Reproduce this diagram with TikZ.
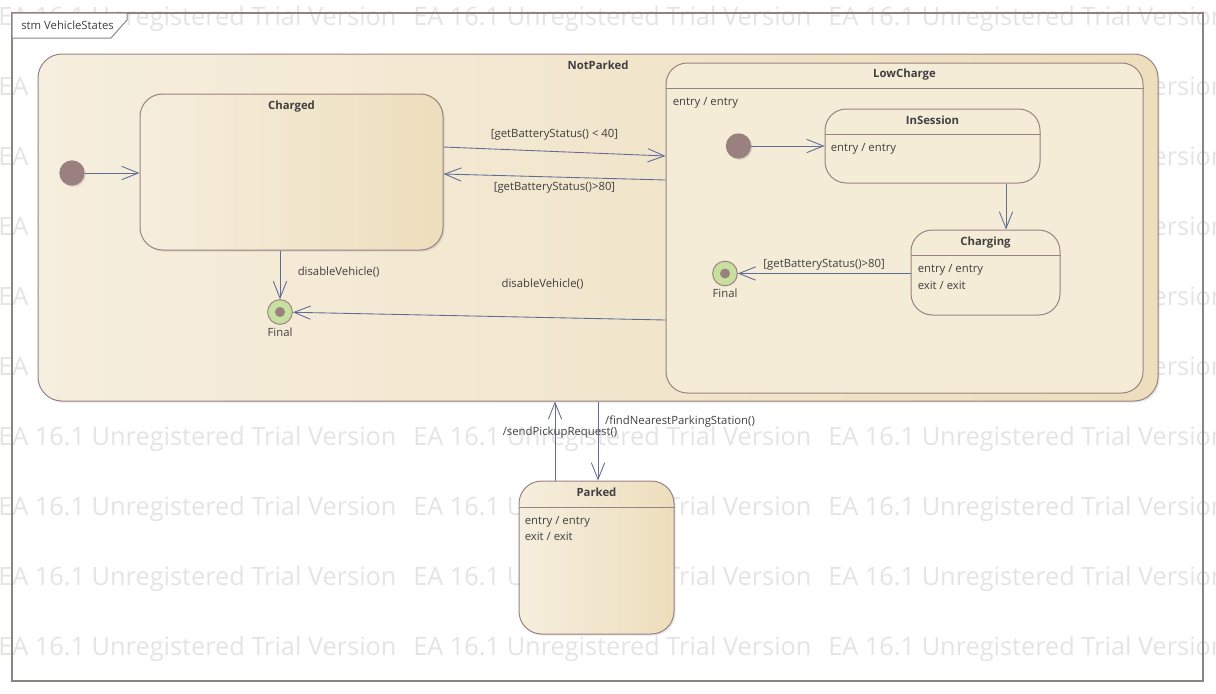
\documentclass[tikz,border=0pt]{standalone}
\usepackage{fontspec}
\setsansfont{Open Sans}
\usetikzlibrary{arrows.meta,positioning,calc,shadows}

\definecolor{stateline}{RGB}{155,130,130}
\definecolor{stateL}{RGB}{246,238,222}
\definecolor{stateR}{RGB}{237,222,188}
\definecolor{stateflat}{RGB}{245,236,216}
\definecolor{pseudo}{RGB}{155,128,128}
\definecolor{finalring}{RGB}{200,224,158}
\definecolor{transcol}{RGB}{95,108,148}
\definecolor{txt}{RGB}{64,64,64}
\definecolor{wmark}{RGB}{228,228,228}
\definecolor{framecol}{RGB}{145,130,130}

\tikzset{
  statebox/.style={draw=stateline, line width=0.75pt, rounded corners=17pt,
    left color=stateL, right color=stateR,
    drop shadow={shadow xshift=1.2pt, shadow yshift=-1.2pt, opacity=0.2}},
  flatbox/.style={draw=stateline, line width=0.75pt, rounded corners=16pt, fill=stateflat},
  divider/.style={draw=stateline, line width=0.75pt},
  title/.style={font=\sffamily\bfseries\fontsize{8.5}{10}\selectfont, text=txt, inner sep=0pt, anchor=base},
  body/.style={font=\sffamily\fontsize{8.5}{10}\selectfont, text=txt, inner sep=0pt, anchor=base west},
  guard/.style={font=\sffamily\fontsize{8.5}{10}\selectfont, text=txt, inner sep=1pt},
  initnode/.style={circle, fill=pseudo, minimum size=19pt, inner sep=0pt,
    drop shadow={shadow xshift=1pt, shadow yshift=-1pt, opacity=0.2}},
  finalnode/.style={circle, draw=stateline, fill=finalring, line width=0.75pt,
    minimum size=18.5pt, inner sep=0pt,
    path picture={\fill[pseudo] (path picture bounding box.center) circle (3.75pt);},
    label={[guard, label distance=1pt]below:Final}},
  trans/.style={draw=transcol, line width=0.65pt,
    -{Straight Barb[length=12.5pt, width=10pt, line width=0.65pt]}},
  wm/.style={font=\sffamily\fontsize{19}{22}\selectfont, text=wmark, inner sep=0pt, anchor=base west}
}

\begin{document}
\begin{tikzpicture}[x=0.75pt, y=-0.75pt]
    \useasboundingbox (0,0) rectangle (1216,693);
    \clip (0,0) rectangle (1216,693);

    % Watermark
    \foreach \r in {0,...,9}
      \foreach \c in {0,1,2}
        \node[wm] (wm-\r-\c) at (\c*415-2, 25+\r*70) {EA 16.1 Unregistered Trial Version};

    % Frame
    \draw[framecol, line width=1.5pt] (12,13) rectangle (1203,681);
    \filldraw[fill=white, draw=framecol, line width=0.75pt] (12,13) -- (127,13) -- (127,20) -- (111,38) -- (12,38) -- cycle;
    \node[body] (FrameTitle) at (21,29) {stm VehicleStates};

    % NotParked
    \node[statebox, rounded corners=18pt, minimum width=840pt, minimum height=260.25pt] (NotParked) at (598,227.5) {};
    \node[title] (NotParkedT) at ($(NotParked.north)+(0,16)$) {NotParked};

    % Charged
    \node[statebox, minimum width=227.25pt, minimum height=117pt] (Charged) at (291.5,172) {};
    \node[title] (ChargedT) at ($(Charged.north)+(0,16)$) {Charged};
    \node[initnode] (Init1) at (72,173) {};
    \node[finalnode] (Final1) at (280,312) {};

    % LowCharge
    \node[flatbox, minimum width=357.75pt, minimum height=247.5pt] (LowCharge) at (904.5,228) {};
    \node[title] (LowChargeT) at ($(LowCharge.north)+(0,15)$) {LowCharge};
    \draw[divider] ($(LowCharge.north west)+(0,26)$) -- ($(LowCharge.north east)+(0,26)$);
    \node[body] (LowChargeE) at ($(LowCharge.north west)+(7,43)$) {entry / entry};

    \node[initnode] (Init2) at (738.5,146) {};
    \node[finalnode] (Final2) at (725,273.5) {};

    \node[flatbox, minimum width=161.25pt, minimum height=55.5pt] (InSession) at (932.5,146) {};
    \node[title] (InSessionT) at ($(InSession.north)+(0,16)$) {InSession};
    \draw[divider] ($(InSession.north west)+(0,26)$) -- ($(InSession.north east)+(0,26)$);
    \node[body] (InSessionE) at ($(InSession.north west)+(6,43)$) {entry / entry};

    \node[flatbox, minimum width=111.75pt, minimum height=63.75pt] (Charging) at (985.5,272.5) {};
    \node[title] (ChargingT) at ($(Charging.north)+(0,16)$) {Charging};
    \draw[divider] ($(Charging.north west)+(0,26)$) -- ($(Charging.north east)+(0,26)$);
    \node[body] (ChargingE) at ($(Charging.north west)+(7,43)$) {entry / entry};
    \node[body] (ChargingX) at ($(Charging.north west)+(7,60)$) {exit / exit};

    % Parked
    \node[statebox, minimum width=116.25pt, minimum height=114.75pt] (Parked) at (596.5,557.5) {};
    \node[title] (ParkedT) at ($(Parked.north)+(0,16)$) {Parked};
    \draw[divider] ($(Parked.north west)+(0,27)$) -- ($(Parked.north east)+(0,27)$);
    \node[body] (ParkedE) at ($(Parked.north west)+(6,44)$) {entry / entry};
    \node[body] (ParkedX) at ($(Parked.north west)+(6,60)$) {exit / exit};

    % Transitions
    \draw[trans] (Init1) -- (Charged.west |- Init1);
    \draw[trans] ($(Charged.east)+(0,-25)$) -- ($(LowCharge.west)+(0,-72)$)
        node[guard, midway, above=7pt] (g1) {[getBatteryStatus() < 40]};
    \draw[trans] ($(LowCharge.west)+(0,-48)$) -- ($(Charged.east)+(0,2)$)
        node[guard, midway, below=3pt] (g2) {[getBatteryStatus()>80]};
    \draw[trans] (Final1.north |- Charged.south) -- (Final1.north)
        node[guard, midway, right=12pt, yshift=2pt] (g3) {disableVehicle()};
    \draw[trans] ($(LowCharge.west)+(0,92)$) -- (Final1)
        node[guard, pos=0.33, above=20pt] (g4) {disableVehicle()};
    \draw[trans] (Init2) -- (InSession.west |- Init2);
    \draw[trans] ($(InSession.south)+(73.5,0)$) -- ($(Charging.north)+(20.5,0)$);
    \draw[trans] (Charging.west |- Final2) -- (Final2)
        node[guard, midway, above=1.5pt] (g5) {[getBatteryStatus()>80]};
    \draw[trans] ($(Parked.north)+(-41.5,0)$) -- ($(NotParked.south)+(-43,0)$)
        node[guard, pos=0.61, xshift=3.75pt] (g6) {/sendPickupRequest()};
    \draw[trans] (NotParked.south) -- ($(Parked.north)+(1.5,0)$)
        node[guard, pos=0.25, right=4pt] (g7) {/findNearestParkingStation()};
\end{tikzpicture}
\end{document}
